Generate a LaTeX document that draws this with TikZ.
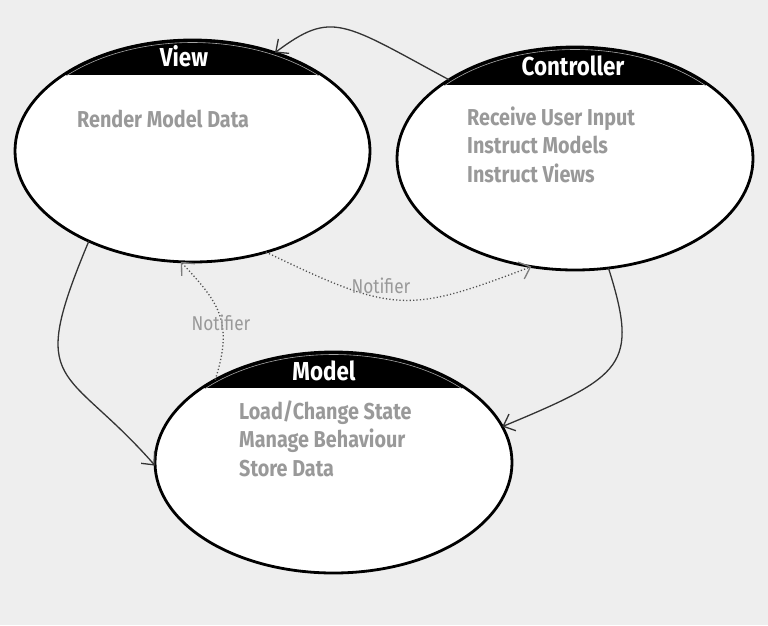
\documentclass[tikz,border=0pt]{standalone}
\usepackage{fontspec}
\setmainfont{Fira Sans}[FakeStretch=0.86]
\usetikzlibrary{shapes.geometric,arrows.meta}
\definecolor{bgcol}{RGB}{238,238,238}
\definecolor{txtgray}{RGB}{153,153,153}
\definecolor{linecol}{RGB}{51,51,51}
\definecolor{dotcol}{RGB}{80,80,80}
\tikzset{
  bubble/.style={ellipse, fill=white, draw=none, inner sep=0pt, outer sep=0pt},
  rim/.style={draw=black, line width=2.8pt},
  shine/.style={draw=gray!70, line width=0.6pt},
  titletext/.style={text=white, font=\bfseries\fontsize{26}{30}\selectfont, inner sep=0pt, anchor=base},
  bodytext/.style={text=txtgray, font=\bfseries\fontsize{23}{28}\selectfont, inner sep=0pt, anchor=base west},
  notelabel/.style={text=txtgray, font=\fontsize{20}{22}\selectfont, inner sep=0pt},
  flow/.style={draw=linecol, line width=1.3pt, -{Straight Barb[length=10pt,width=18pt]}},
  notify/.style={draw=dotcol, line width=1.3pt, dash pattern=on 1.2pt off 2.2pt,
    -{Straight Barb[length=10pt,width=18pt,color=dotcol!75]}}
}
\begin{document}
\begin{tikzpicture}[x=1pt,y=-1pt]
\fill[bgcol] (0,0) rectangle (768,625);
\useasboundingbox (0,0) rectangle (768,625);

% ---------- View ----------
\node[bubble, minimum width=355pt, minimum height=222pt] (view) at (192.5,151) {};
\begin{scope}
  \clip (192.5,151) ellipse [x radius=177.5, y radius=111];
  \clip (0,0) rectangle (768,75);
  \fill[black] (0,0) rectangle (768,75);
  \draw[shine] (192.5,151) ellipse [x radius=175, y radius=108.5];
\end{scope}
\draw[rim] (192.5,151) ellipse [x radius=177.5, y radius=111];
\node[titletext] (viewtitle) at (184,66) {View};
\node[bodytext] (view1) at (77,127) {Render Model Data};

% ---------- Controller ----------
\node[bubble, minimum width=356pt, minimum height=223pt] (ctrl) at (575,158.5) {};
\begin{scope}
  \clip (575,158.5) ellipse [x radius=178, y radius=111.5];
  \clip (0,0) rectangle (768,85);
  \fill[black] (0,0) rectangle (768,85);
  \draw[shine] (575,158.5) ellipse [x radius=175.5, y radius=109];
\end{scope}
\draw[rim] (575,158.5) ellipse [x radius=178, y radius=111.5];
\node[titletext] (ctrltitle) at (573,75) {Controller};
\node[bodytext] (ctrl1) at (467,125) {Receive User Input};
\node[bodytext] (ctrl2) at (467,153.5) {Instruct Models};
\node[bodytext] (ctrl3) at (467,182) {Instruct Views};

% ---------- Model ----------
\node[bubble, minimum width=357pt, minimum height=221pt] (model) at (333.5,462.5) {};
\begin{scope}
  \clip (333.5,462.5) ellipse [x radius=178.5, y radius=110.5];
  \clip (0,0) rectangle (768,388);
  \fill[black] (0,0) rectangle (768,388);
  \draw[shine] (333.5,462.5) ellipse [x radius=176, y radius=108];
\end{scope}
\draw[rim] (333.5,462.5) ellipse [x radius=178.5, y radius=110.5];
\node[titletext] (modeltitle) at (324,380) {Model};
\node[bodytext] (model1) at (239,419) {Load/Change State};
\node[bodytext] (model2) at (239,447.5) {Manage Behaviour};
\node[bodytext] (model3) at (239,476) {Store Data};

% ---------- Connectors ----------
\draw[flow] (ctrl.148) .. controls (342,22) and (332,10) .. (view.50);
\draw[flow] (view.221) .. controls (26,391) and (65,363) .. (model.181);
\draw[flow] (ctrl.287) .. controls (639,365) and (624,376) .. (model.12);

\draw[notify] (model.145) .. controls (234,321) and (218.5,302.5) .. (view.264);
\draw[notify] (view.306) .. controls (394,314) and (408,313.5) .. (ctrl.248);

\node[notelabel] (note1) at (381,286) {Notifier};
\node[notelabel] (note2) at (221,323) {Notifier};
\end{tikzpicture}
\end{document}
